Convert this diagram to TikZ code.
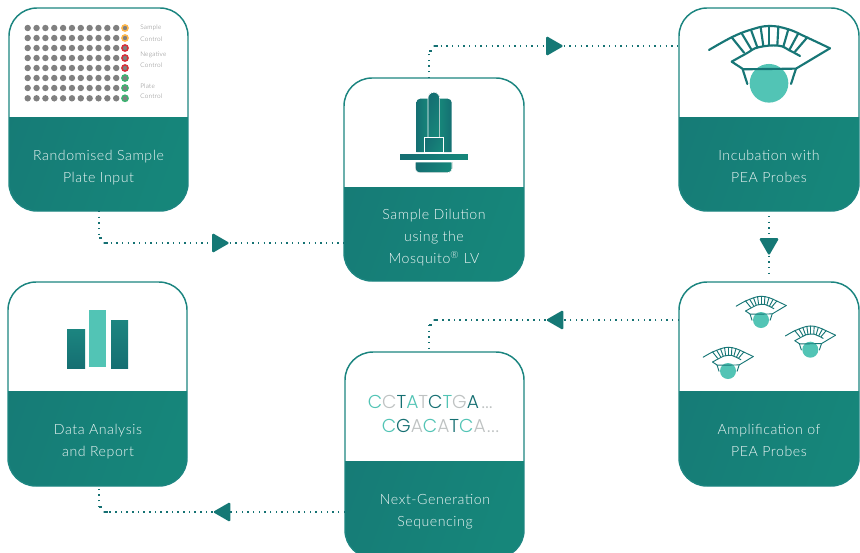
\documentclass[tikz,border=0pt]{standalone}
\usepackage{fontspec}
\usetikzlibrary{calc,shapes.geometric}
\setmainfont{Lato Light}[LetterSpace=4]
\newfontfamily\dnafont{Poppins Light}
\definecolor{tealA}{HTML}{156F72}
\definecolor{tealB}{HTML}{16867A}
\definecolor{tealL}{HTML}{52C4B5}
\definecolor{tealE}{HTML}{1C8580}
\definecolor{grayD}{HTML}{808080}
\definecolor{grayT}{HTML}{BEC2C2}
\newcommand{\eyeicon}[1]{%
  \fill[tealL] (297,250) circle (58);
  \begin{scope}[draw=tealA!70!tealE,line width=#1,line cap=round,line join=round]
  \draw plot[smooth,tension=.7] coordinates {(117,150) (185,112) (240,90) (297,78) (355,88) (410,112) (480,145)};
  \draw (480,145) -- (378,206) -- (220,208) -- (185,185);
  \draw plot[smooth,tension=.7] coordinates {(185,185) (230,160) (265,142) (325,137) (360,152) (390,168)};
  \foreach \a/\b/\c/\d in {185/112/222/158,215/100/245/150,243/90/262/142,272/82/280/138,298/78/298/136,325/80/322/136,355/88/340/140,385/100/358/150,412/112/375/155}
    \draw (\a,\b) -- (\c,\d);
  \draw (218,208) -- (232,252);
  \draw (378,206) -- (363,252);
  \end{scope}}
\tikzset{
  card/.style n args={3}{draw=tealE,line width=1.1pt,fill=white,rounded corners=21pt,inner sep=0pt,outer sep=0pt,
    minimum width=#1*0.75pt,minimum height=#2*0.75pt,
    path picture={\fill[sharp corners,left color=tealA!50!tealB,right color=tealB,shading angle=70]
      ([yshift=-#3*0.75pt]path picture bounding box.north west) rectangle (path picture bounding box.south east);}},
  steptext/.style={text=white!92!tealB,font=\fontsize{10.6pt}{16.5pt}\selectfont,align=center,inner sep=0pt},
  dots/.style={draw=tealA!85!tealB,line width=1.05pt,dash pattern=on 1.05pt off 3.2pt},
  cornerdash/.style={draw=tealA,line width=1.05pt},
  tri/.style={regular polygon,regular polygon sides=3,shape border rotate=#1,fill=tealA!60!tealB,inner sep=0pt,minimum size=17.5pt,rounded corners=1.2pt,outer sep=0pt},
  ctl/.style={text=grayD,font=\fontsize{4.8pt}{5pt}\selectfont,anchor=west,inner sep=0pt},
  wellp/.style={fill=grayD},
  dnaline/.style={font=\dnafont\fontsize{14pt}{16pt}\selectfont,anchor=base west,inner sep=0pt},
  iconp/.style={left color=tealA,right color=tealB,shading angle=60,draw=white,line width=.5pt}
}
\begin{document}
\begin{tikzpicture}[x=0.75pt,y=-0.75pt]
\useasboundingbox (0,0) rectangle (860,553);
% cards
\node[card={179}{203}{109}] (c1) at (98.5,109.5) {};
\node[card={180}{203}{109}] (c2) at (434,179.5) {};
\node[card={180}{203}{109}] (c3) at (769,109.5) {};
\node[card={180}{204}{109}] (c4) at (769,384) {};
\node[card={179}{206}{109}] (c5) at (434.5,455) {};
\node[card={179}{204}{109}] (c6) at (97.5,384) {};
% card texts
\node[steptext] (t1) at (98.5,168) {Randomised Sample\\Plate Input};
\node[steptext] (t2) at (434,238) {Sample Dilution\\using the\\Mosquito\textsuperscript{®} LV};
\node[steptext] (t3) at (769,166) {Incubation with\\PEA Probes};
\node[steptext] (t4) at (769,440) {Amplification of\\PEA Probes};
\node[steptext] (t5) at (435,512) {Next-Generation\\Sequencing};
\node[steptext] (t6) at (98,442) {Data Analysis\\and Report};
% plate
\foreach \y [count=\r] in {28,38,48,58,68,78,88,98.3}{
  \foreach \i in {0,...,10}
    \fill[wellp] ({27.7+8.85*\i},\y) circle (3.2);
}
\foreach \y/\c in {28/FFB84D,38/FFB84D,48/D9303A,58/D9303A,68/D9303A,78/3CB371,88/3CB371,98.3/3CB371}{
  \definecolor{ringc}{HTML}{\c}
  \fill[wellp,draw=ringc,line width=1.1pt] (125,\y) circle (3.1);
}
\node[ctl] (l1) at (140,28) {Sample};
\node[ctl] (l2) at (140,38.7) {Control};
\node[ctl] (l3) at (140,54.8) {Negative};
\node[ctl] (l4) at (140,64.7) {Control};
\node[ctl] (l5) at (140,86) {Plate};
\node[ctl] (l6) at (140,96) {Control};
% mosquito
\shade[left color=tealA,right color=tealB] (416.3,152) [rounded corners=3pt] -- (416.3,98.7) [sharp corners] -- (428.5,98.7) -- (428.5,152) -- cycle;
\shade[left color=tealB,right color=tealA] (439.7,152) -- (439.7,98.7) [rounded corners=3pt] -- (451.7,98.7) [sharp corners] -- (451.7,152) -- cycle;
\filldraw[iconp] (428,137.5) -- (428,98) arc[start angle=180,end angle=360,x radius=5.8,y radius=5.8] -- (439.6,137.5) -- cycle;
\filldraw[iconp] (424,137.7) rectangle (443.7,152);
\filldraw[iconp] (399.3,153) rectangle (468.7,160.3);
\filldraw[iconp] (415.3,162) [rounded corners=3pt] -- (415.3,172.7) -- (452,172.7) [sharp corners] -- (452,162) -- cycle;
% eyes
\begin{scope}[shift={(769,83.3)},scale=1/3,shift={(-297,-250)}]
\eyeicon{1.6pt}
\end{scope}
\foreach \cx/\cy in {761/320,810.3/349.7,728/371}{
\begin{scope}[shift={(\cx,\cy)},scale=0.138,shift={(-297,-250)}]
\eyeicon{0.7pt}
\end{scope}}
% chart
\shade[top color=tealE,bottom color=tealA] (67,329) rectangle (85,368);
\fill[tealL] (89,310) rectangle (106,367);
\shade[top color=tealE,bottom color=tealA] (111,320) rectangle (128,368);
% DNA
\node[dnaline] (d1) at (367.5,408) {\addfontfeature{LetterSpace=1.5}\textcolor{tealL}{C}\textcolor{grayT}{C}\textcolor{tealA}{T}\textcolor{tealL}{A}\textcolor{grayT}{T}\textcolor{tealA}{C}\textcolor{tealL}{T}\textcolor{grayT}{G}\textcolor{tealA}{A}\hspace{2pt}\textcolor{grayT}{...}};
\node[dnaline] (d2) at (381.5,432) {\addfontfeature{LetterSpace=4.5}\textcolor{tealL}{C}\textcolor{tealA}{G}\textcolor{grayT}{A}\textcolor{tealL}{C}\textcolor{grayT}{A}\textcolor{tealA}{T}\textcolor{tealL}{C}\textcolor{grayT}{A}\hspace{1pt}\textcolor{grayT}{...}};
% arrow heads
\node[tri=-90] (a1) at (218,243) {};
\node[tri=-90] (a2) at (552,46) {};
\node[tri=180] (a3) at (769,244) {};
\node[tri=90] (a4) at (557.5,320) {};
\node[tri=90] (a5) at (224.5,512) {};
% corner coordinates
\coordinate (k1a) at (99,238);
\coordinate (k1b) at (105,243);
\coordinate (k2a) at (429,51);
\coordinate (k2b) at (435,46);
\coordinate (k3a) at (769,216);
\coordinate (k3b) at (769,276);
\coordinate (k4a) at (429,325);
\coordinate (k4b) at (435,320);
\coordinate (k5a) at (99,507);
\coordinate (k5b) at (105,512);
% connectors
\draw[dots] (c1.south -| k1a) -- (k1a);
\draw[cornerdash] (k1a) -- ++(3,0);
\draw[cornerdash] (k1b) -- ++(-1.5,0) -- ++(4,0);
\draw[dots] (k1b) -- (a1);
\draw[dots] (a1) -- (c2.west |- a1);
\draw[dots] (c2.north -| k2a) -- (k2a);
\draw[cornerdash] (k2a) -- ++(3,0);
\draw[cornerdash] (k2b) -- ++(-1.5,0) -- ++(4,0);
\draw[dots] (k2b) -- (a2);
\draw[dots] (a2) -- (c3.west |- a2);
\draw[dots] (k3a) -- (a3);
\draw[dots] (a3) -- (k3b);
\draw[dots] (c4.west |- a4) -- (a4);
\draw[dots] (a4) -- (k4b);
\draw[cornerdash] (k4b) -- ++(-1.5,0) -- ++(4,0);
\draw[cornerdash] (k4a) -- ++(3,0);
\draw[dots] (k4a) -- (c5.north -| k4a);
\draw[dots] (c5.west |- a5) -- (a5);
\draw[dots] (a5) -- (k5b);
\draw[cornerdash] (k5b) -- ++(-1.5,0) -- ++(4,0);
\draw[cornerdash] (k5a) -- ++(3,0);
\draw[dots] (k5a) -- (c6.south -| k5a);
\end{tikzpicture}
\end{document}
